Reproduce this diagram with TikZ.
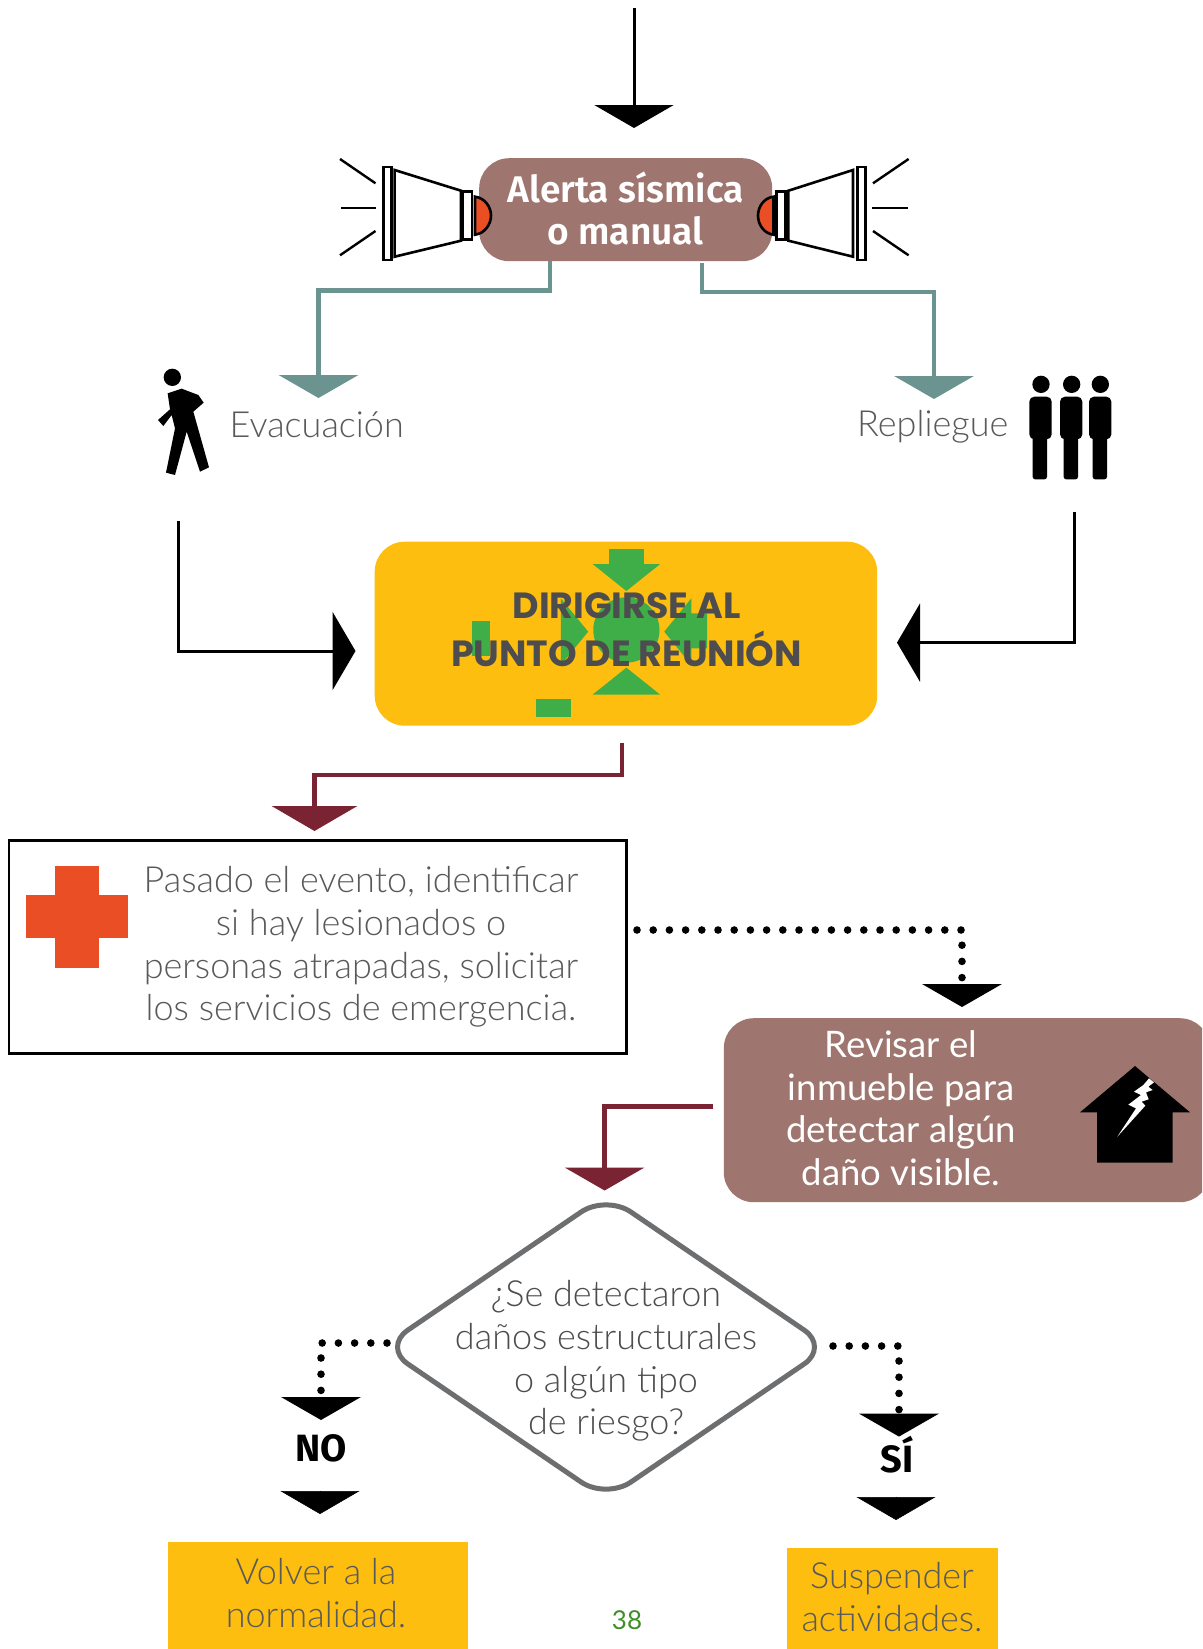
\documentclass[tikz,border=0pt]{standalone}
\usepackage{fontspec}
\usetikzlibrary{arrows.meta,shapes.geometric}
\setmainfont{Lato Light}
\newfontfamily\boldf{Fira Sans SemiBold}
\newfontfamily\boldxf{Fira Sans Bold}
\newfontfamily\headf{Poppins Bold}
\newfontfamily\midf{Lato}
\definecolor{brownbox}{HTML}{9E766F}
\definecolor{yellowbox}{HTML}{FDBE10}
\definecolor{tealc}{HTML}{6B9491}
\definecolor{maroon}{HTML}{7A2333}
\definecolor{redor}{HTML}{E94E24}
\definecolor{greenc}{HTML}{3FAE49}
\definecolor{greytxt}{HTML}{58595B}
\definecolor{darktxt}{HTML}{4D4D4F}
\definecolor{diam}{HTML}{6D6E70}
\definecolor{pagegreen}{HTML}{3F8F29}
\tikzset{
  x=1pt,y=-1pt,
  bodytext/.style={font=\fontsize{36}{42.7}\selectfont,text=greytxt,align=center,inner sep=0pt},
  whitetext/.style={font=\fontsize{36.5}{42.5}\selectfont\midf,text=white,align=center,inner sep=0pt},
  boxbase/.style={inner sep=0pt,anchor=north west},
  headtip/.style={-{Triangle[length=23pt,width=79pt]}},
  widetip/.style={-{Triangle[length=25pt,width=85pt]}},
  sidetip/.style={-{Triangle[length=23pt,width=78pt]}},
  tealline/.style={draw=tealc,line width=4.8pt,headtip,color=tealc},
  maroonline/.style={draw=maroon,line width=4.8pt,color=maroon},
  blackline/.style={draw=black,line width=3pt},
  dotline/.style={draw=black,line width=7.6pt,line cap=round,dash pattern=on 0pt off 16.2pt,headtip},
  spk/.style={draw=black,line width=2.6pt,fill=white},
  ray/.style={draw=black,line width=2.4pt},
  solidblack/.style={fill=black,draw=none},
  greenshape/.style={fill=greenc,draw=none},
  boldlabel/.style={font=\fontsize{38}{44}\selectfont\boldxf,text=black,inner sep=0pt,anchor=base},
}
\begin{document}
\begin{tikzpicture}
\useasboundingbox (0,0) rectangle (1202,1649);
\fill[white] (0,0) rectangle (1202,1649);

% top connector
\coordinate (topS) at (634,8);
\coordinate (topE) at (634,128);
\draw[blackline,headtip] (topS) -- (topE);

% alert box
\node[boxbase,fill=brownbox,rounded corners=30pt,minimum width=293pt,minimum height=103pt,
  text=white,align=center,font=\fontsize{37.1}{42}\selectfont\boldf] (alert) at (479,158) {\raisebox{3.5pt}{Alerta sísmica}\\\raisebox{3.5pt}{o manual}};

% left speaker
\draw[ray] (340,159)--(375.5,183.3);
\draw[ray] (341,208)--(376,208);
\draw[ray] (340,255.3)--(375.5,231);
\draw[spk] (383.5,167) rectangle (391.5,260);
\draw[spk] (394.6,170)--(461,190.7)--(461,240.7)--(394.6,256.7)--cycle;
\draw[spk] (462.7,191.7) rectangle (472,239.3);
\draw[spk,fill=redor] (475,196.7) .. controls (485,198) and (491,207) .. (491,215.7) .. controls (491,224) and (485,233.5) .. (475,234.7) -- cycle;
% right speaker
\draw[ray] (908.6,159)--(873,183.3);
\draw[ray] (908,208)--(872,208);
\draw[ray] (908.6,255.3)--(873,231);
\draw[spk] (857.5,167) rectangle (865.5,260);
\draw[spk] (853,170)--(788.4,190.7)--(788.4,240.7)--(853,256.7)--cycle;
\draw[spk] (776.6,191.7) rectangle (785.7,239.3);
\draw[spk,fill=redor] (773.5,196.7) .. controls (763.5,198) and (758,207) .. (758,215.7) .. controls (758,224) and (763.5,233.5) .. (773.5,234.7) -- cycle;

% teal connectors
\coordinate (tlS) at (550,261);
\coordinate (tlB) at (318.5,290.7);
\coordinate (tlE) at (318.5,398);
\draw[tealline] (tlS) |- (tlB) -- (tlE);
\coordinate (trS) at (702,263);
\coordinate (trB) at (934,292);
\coordinate (trE) at (934,399);
\draw[tealline] (trS) |- (trB) -- (trE);

% labels
\node[bodytext,anchor=base west] (evac) at (229.5,437) {Evacuación};
\node[bodytext,anchor=base west] (repl) at (857,436) {Repliegue};

% walking person
\begin{scope}[shift={(130,350)},scale=1/3]
\fill[black] (127,82) circle (26);
\fill[solidblack] (113,130)--(155,116)--(205,135)--(221,158)--(190,185)--(237,352)--(210,365)--(170,245)--(135,375)--(108,368)--(135,235)--(125,195)--(100,228)--(84,210)--(120,178)--cycle;
\end{scope}

% people
\begin{scope}[shift={(840,350)},scale=1/3]
\foreach \hx/\bl/\lg in {603/568/578,695/660/671,781/747/758}{
  \fill[black] (\hx,103) circle (26);
  \fill[black,rounded corners=5pt] (\bl,140) rectangle (\bl+67,268);
  \fill[black,rounded corners=2.5pt] (\lg,250) rectangle (\lg+43,388);
}
\end{scope}

% black connectors to yellow box
\coordinate (blS) at (178,521);
\coordinate (blB) at (178,651);
\coordinate (blE) at (355.5,651);
\draw[blackline,sidetip] (blS) -- (blB) -- (blE);
\coordinate (brS) at (1074,512);
\coordinate (brB) at (1074,642.6);
\coordinate (brE) at (897,642.6);
\draw[blackline,sidetip] (brS) -- (brB) -- (brE);

% yellow box
\node[boxbase,fill=yellowbox,rounded corners=30pt,minimum width=502.5pt,minimum height=184pt] (meet) at (374.5,541.5) {};
\begin{scope}[shift={(360,530)},xscale=1/2.958,yscale=1/3]
\fill[greenshape] (737,57)--(840,57)--(840,102)--(888,102)--(788,183)--(688,102)--(737,102)--cycle;
\fill[greenshape] (690,300) arc[start angle=180,end angle=540,x radius=98,y radius=98];
\fill[greenshape] (331,273) rectangle (385,378);
\fill[greenshape] (594,205)--(675,305)--(594,405)--cycle;
\fill[greenshape] (900,305)--(980,205)--(980,250)--(1027,250)--(1027,355)--(980,355)--(980,405)--cycle;
\fill[greenshape] (688,494)--(888,494)--(788,413)--cycle;
\fill[greenshape] (521,507) rectangle (624,560);
\end{scope}
\node[inner sep=0pt,anchor=base,font=\fontsize{36.4}{48}\selectfont\headf,text=darktxt] (meet1) at (626.5,618.7) {DIRIGIRSE AL};
\node[inner sep=0pt,anchor=base,font=\fontsize{36.4}{48}\selectfont\headf,text=darktxt] (meet2) at (626.5,666.7) {PUNTO DE REUNIÓN};

% maroon connector 1
\coordinate (m1S) at (622,742.5);
\coordinate (m1B) at (314.5,775);
\coordinate (m1E) at (314.5,831);
\draw[maroonline,widetip] (m1S) |- (m1B) -- (m1E);

% injured box
\node[boxbase,draw=black,line width=2.8pt,fill=white,minimum width=617.5pt,minimum height=213pt] (injured) at (7.5,839) {};
\fill[redor] (55,866) rectangle (99,968);
\fill[redor] (26,895) rectangle (128,938);
\node[bodytext] (injt) at (361,947) {Pasado el evento, identificar\\si hay lesionados o\\personas atrapadas, solicitar\\los servicios de emergencia.};

% dotted to revise
\coordinate (d1S) at (637,930);
\coordinate (d1B) at (962,930);
\coordinate (d1E) at (962,1007);
\draw[dotline] (d1S) -- (d1B) -- (d1E);

% revise box
\begin{scope}
\clip (0,0) rectangle (1202,1649);
\node[boxbase,fill=brownbox,rounded corners=30pt,minimum width=486pt,minimum height=184pt] (revise) at (723.6,1018) {};
\end{scope}
\node[whitetext] (revt) at (901,1108) {Revisar el\\inmueble para\\detectar algún\\daño visible.};
\begin{scope}[shift={(1040,1040)},scale=1/3]
\fill[black] (285,78)--(450,217)--(398,217)--(398,368)--(171,368)--(171,217)--(120,217)--cycle;
\fill[white] (327,115)--(342,127)--(325,140)--(338,150)--(318,157)--(326,178)--(305,185)--(316,197)--(232,290)--(288,205)--(265,194)--(303,165)--(282,155)--(310,135)--cycle;
\end{scope}

% maroon connector 2
\coordinate (m2S) at (713,1106.5);
\coordinate (m2B) at (604.6,1106.5);
\coordinate (m2E) at (604.6,1190.5);
\draw[maroonline,headtip] (m2S) -- (m2B) -- (m2E);

% diamond
\draw[draw=diam,line width=5pt,fill=white,rounded corners=30pt] (606,1195)--(829,1347)--(606,1499)--(383,1347)--cycle;
\node[bodytext,text=darktxt] (q) at (606,1361) {¿Se detectaron\\daños estructurales\\o algún tipo\\de riesgo?};

% dotted no
\coordinate (d2S) at (387,1343);
\coordinate (d2B) at (321,1343);
\coordinate (d2E) at (321,1420);
\draw[dotline] (d2S) -- (d2B) -- (d2E);
\node[boldlabel] (no) at (321,1461) {NO};
\coordinate (n2S) at (320,1490.5);
\coordinate (n2E) at (320,1514);
\draw[draw=black,line width=.5pt,headtip] (n2S) -- (n2E);

% dotted si
\coordinate (d3S) at (833,1346);
\coordinate (d3B) at (899,1346);
\coordinate (d3E) at (899,1436.6);
\draw[dotline] (d3S) -- (d3B) -- (d3E);
\node[boldlabel] (si) at (897,1472) {SÍ};
\coordinate (s2S) at (896,1496.5);
\coordinate (s2E) at (896,1520);
\draw[draw=black,line width=.5pt,headtip] (s2S) -- (s2E);

% result boxes
\node[boxbase,fill=yellowbox,minimum width=300pt,minimum height=107pt] (normal) at (168,1542) {};
\node[bodytext] (normalt) at (316,1593) {Volver a la\\normalidad.};
\node[boxbase,fill=yellowbox,minimum width=211pt,minimum height=101pt] (susp) at (787,1548) {};
\node[bodytext] (suspt) at (892,1597) {Suspender\\actividades.};
\node[inner sep=0pt,anchor=base,font=\fontsize{26}{30}\selectfont\midf,text=pagegreen] (pg) at (627,1629) {38};
\end{tikzpicture}
\end{document}
